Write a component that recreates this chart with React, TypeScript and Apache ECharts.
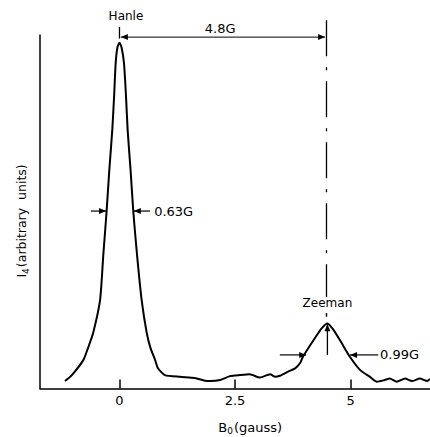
import React, { useEffect, useRef } from "react";
import * as echarts from "echarts";

// Magnetic field B0 (gauss) and signal I4 (arbitrary units, 0-100)
const B_VALUES = [
  -1.18, -1.03, -0.78, -0.68, -0.57, -0.42, -0.35, -0.28, -0.22, -0.156, -0.115, -0.082, -0.043, 0,
  0.043, 0.097, 0.14, 0.177, 0.24, 0.3, 0.38, 0.48, 0.59, 0.67, 0.77, 0.83, 0.98, 1.31, 1.63, 1.85,
  1.96, 2.18, 2.39, 2.61, 2.82, 3.04, 3.26, 3.37, 3.47, 3.65, 3.8, 3.91, 3.97, 4.23, 4.38, 4.5,
  4.62, 4.77, 4.99, 5.21, 5.42, 5.57, 5.74, 5.85, 6.0, 6.18, 6.33, 6.5, 6.66, 6.72,
];
const I_VALUES = [
  2.1, 3.8, 8.1, 11.5, 15.7, 25.0, 37.8, 49.9, 61.8, 73.1, 83.0, 92.1, 96.6, 97.8,
  96.6, 92.1, 83.0, 73.1, 61.8, 49.9, 37.8, 25.0, 15.7, 11.5, 8.1, 5.8, 3.8, 3.3, 3.0, 2.2,
  2.1, 2.4, 3.5, 3.8, 4.0, 3.1, 4.0, 3.3, 3.6, 4.8, 5.7, 7.2, 9.0, 14.3, 17.1, 18.4,
  16.8, 13.7, 8.9, 5.2, 3.3, 1.9, 2.4, 2.8, 1.9, 2.8, 2.1, 2.8, 2.1, 2.7,
];
const X_TICKS = [0, 2.5, 5];
const X_MIN = -1.72;
const X_MAX = 6.72;
const Y_MIN = 0;
const Y_MAX = 100;

// Annotations (data coordinates)
const HANLE_X = 0;
const ZEEMAN_X = 4.48;
const HANLE_LABEL = "Hanle";
const ZEEMAN_LABEL = "Zeeman";
const SPLIT_LABEL = "4.8G";
const HANLE_WIDTH_LABEL = "0.63G";
const ZEEMAN_WIDTH_LABEL = "0.99G";
const HANLE_FWHM = [-0.62, -0.29, 0.31, 0.66, 0.75, 50.2]; // leftStart, leftEnd, rightEnd, rightStart, labelX, y
const ZEEMAN_FWHM = [3.47, 4.04, 4.99, 5.6, 5.64, 9.5];

const FONT = "DejaVu Sans";

function arrowHead(tip: number[], from: number[], len = 7, half = 3) {
  const dx = tip[0] - from[0];
  const dy = tip[1] - from[1];
  const d = Math.hypot(dx, dy) || 1;
  const ux = dx / d, uy = dy / d;
  const bx = tip[0] - ux * len, by = tip[1] - uy * len;
  return {
    type: "polygon",
    shape: { points: [tip, [bx - uy * half, by + ux * half], [bx + uy * half, by - ux * half]] },
    style: { fill: "#000" },
    silent: true,
  };
}

function line(a: number[], b: number[], width = 1.2, dash?: number[]) {
  return {
    type: "line",
    shape: { x1: a[0], y1: a[1], x2: b[0], y2: b[1] },
    style: { stroke: "#000", lineWidth: width, lineDash: dash },
    silent: true,
  };
}

function text(pos: number[], str: string, align = "center", size = 12) {
  return {
    type: "text",
    x: pos[0],
    y: pos[1],
    style: {
      text: str,
      align,
      verticalAlign: "middle",
      fill: "#000",
      fontFamily: FONT,
      fontSize: size,
    },
    silent: true,
  };
}

export default function App() {
  const ref = useRef<HTMLDivElement>(null);
  useEffect(() => {
    if (!ref.current) return;
    const chart = echarts.init(ref.current, null, { renderer: "svg" });
    chart.setOption({
      animation: false,
      grid: { left: 40, right: 0, top: 35, bottom: 48.5 },
      xAxis: {
        type: "value",
        min: X_MIN,
        max: X_MAX,
        axisLine: { show: true, onZero: false, lineStyle: { color: "#000", width: 1.5 } },
        axisTick: {
          show: true,
          inside: true,
          length: 9,
          customValues: X_TICKS,
          lineStyle: { color: "#000", width: 1.5 },
        },
        axisLabel: {
          customValues: X_TICKS,
          color: "#000",
          fontFamily: FONT,
          fontSize: 13,
          margin: 5,
          formatter: (v: number) => String(v),
        },
        splitLine: { show: false },
      },
      yAxis: {
        type: "value",
        min: Y_MIN,
        max: Y_MAX,
        axisLine: { show: true, onZero: false, lineStyle: { color: "#000", width: 1.5 } },
        axisTick: { show: false },
        axisLabel: { show: false },
        splitLine: { show: false },
      },
      series: [
        {
          type: "line",
          data: B_VALUES.map((b, i) => [b, I_VALUES[i]]),
          showSymbol: false,
          smooth: 0.2,
          clip: false,
          lineStyle: { color: "#000", width: 2 },
        },
      ],
    });

    const p = (x: number, y: number) =>
      chart.convertToPixel({ gridIndex: 0 }, [x, y]) as number[];

    const g: any[] = [];
    // Hanle label and tick
    g.push(text(p(HANLE_X + 0.14, 105.4), HANLE_LABEL));
    g.push(line(p(HANLE_X, 102.3), p(HANLE_X, 99.0), 1.3));
    // 4.8G span arrow
    const sa = p(HANLE_X + 0.03, 99.4);
    const sb = p(ZEEMAN_X - 0.03, 99.4);
    g.push(line(sa, sb, 1));
    g.push(arrowHead(sa, sb));
    g.push(arrowHead(sb, sa));
    g.push(text(p(2.18, 101.8), SPLIT_LABEL, "center", 13));
    // Zeeman dash-dot line
    g.push(line(p(ZEEMAN_X, 104.2), p(ZEEMAN_X, 25.9), 1.3, [36, 11, 3, 11]));
    g.push(text(p(ZEEMAN_X + 0.02, 24.2), ZEEMAN_LABEL));
    g.push(line(p(ZEEMAN_X, 21.3), p(ZEEMAN_X, 20.3), 1.5));
    // Zeeman peak arrow
    const za = p(4.5, 9.5);
    const zb = p(4.5, 18.2);
    g.push(line(za, zb, 1.3));
    g.push(arrowHead(zb, za));
    // FWHM arrows
    for (const [f, label] of [
      [HANLE_FWHM, HANLE_WIDTH_LABEL],
      [ZEEMAN_FWHM, ZEEMAN_WIDTH_LABEL],
    ] as [number[], string][]) {
      const y = f[5];
      const l0 = p(f[0], y), l1 = p(f[1], y), r1 = p(f[2], y), r0 = p(f[3], y);
      g.push(line(l0, l1, 1.2));
      g.push(arrowHead(l1, l0));
      g.push(line(r0, r1, 1.2));
      g.push(arrowHead(r1, r0));
      g.push(text(p(f[4], y), label, "left", 13));
    }
    // Axis names
    const xn = p(2.83, -10.9);
    g.push({
      type: "text",
      x: xn[0],
      y: xn[1],
      style: {
        text: "{m|B}{s|0}{m|(gauss)}",
        align: "center",
        verticalAlign: "middle",
        fill: "#000",
        rich: {
          m: { fontFamily: FONT, fontSize: 13, fill: "#000" },
          s: { fontFamily: FONT, fontSize: 9, fill: "#000", padding: [8, 1, 0, 0] },
        },
      },
      silent: true,
    });
    const yn = p(-2.11, 47.4);
    g.push({
      type: "text",
      x: yn[0],
      y: yn[1],
      rotation: Math.PI / 2,
      style: {
        text: "{m|I}{s|4}{m|(arbitrary  units)}",
        align: "center",
        verticalAlign: "middle",
        fill: "#000",
        rich: {
          m: { fontFamily: FONT, fontSize: 12.5, fill: "#000" },
          s: { fontFamily: FONT, fontSize: 9, fill: "#000", padding: [8, 1, 0, 0] },
        },
      },
      silent: true,
    });

    chart.setOption({ graphic: g });
    return () => chart.dispose();
  }, []);
  return (
    <div
      ref={ref}
      style={{ position: "absolute", left: 0, top: 0, width: 430, height: 437, background: "#fff" }}
    />
  );
}
